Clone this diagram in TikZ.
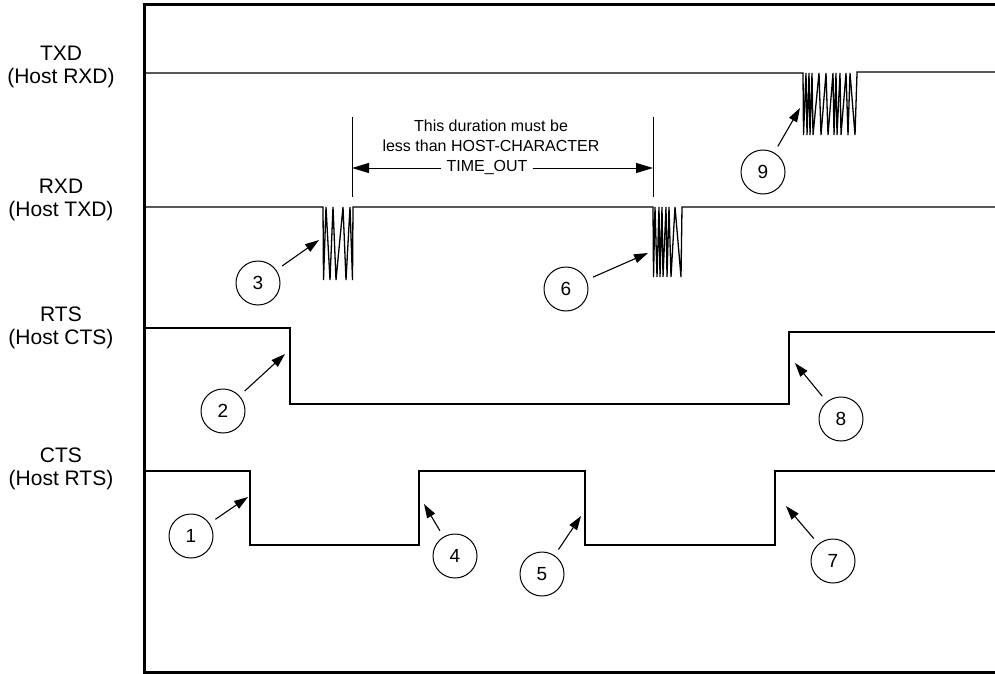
\documentclass[tikz,border=0pt]{standalone}
\usepackage{fontspec}
\setmainfont{Liberation Sans}
\usetikzlibrary{arrows.meta,positioning}
\tikzset{
  sig/.style={line width=1.3pt},
  pointer/.style={-{Triangle[length=14pt,width=9pt]},line width=1.1pt,shorten <=7pt},
  dur/.style={-{Triangle[length=17pt,width=10pt]},line width=1pt},
  num/.style={draw,circle,line width=1pt,minimum size=44pt,inner sep=0pt,font=\fontsize{19}{19}\selectfont},
  siglabel/.style={align=center,font=\fontsize{21}{23}\selectfont},
  note/.style={align=center,font=\fontsize{16}{20.5}\selectfont},
}

\begin{document}
\begin{tikzpicture}[x=1pt,y=-1pt]
\useasboundingbox (0,0) rectangle (995,674);

% frame
\draw[line width=3pt] (995,4.5) -- (144.5,4.5) -- (144.5,672) -- (995,672);

% signal names
\node[siglabel] (ltxd) at (61,67) {TXD\\(Host RXD)};
\node[siglabel] (lrxd) at (61,200) {RXD\\(Host TXD)};
\node[siglabel] (lrts) at (61,328) {RTS\\(Host CTS)};
\node[siglabel] (lcts) at (61,469) {CTS\\(Host RTS)};

% ===== waveforms =====
% TXD with burst
\draw[sig] (146,73) -- (803,73)
  \foreach \a/\b in {803.5/806,807/809,810/812,813/819,821/826,828/833,834/836,837/840,841/846,848/850,855/857} { -- (\a,135) -- (\b,73)}
  -- (857,72) -- (995,72);
% RXD with two bursts
\draw[sig] (146,207) -- (323,207)
  \foreach \a/\b in {323.5/326,330/333,336/343,346/350,352.5/353} { -- (\a,280) -- (\b,207)}
  -- (653,207)
  \foreach \a/\b in {653.5/655,657/659,660/662,663/666,667/669,671/675,681/682} { -- (\a,277) -- (\b,207)}
  -- (995,207);
% RTS
\draw[sig] (146,328) -- (290,328) -- (290,404) -- (789,404) -- (789,332) -- (995,332);
% CTS
\draw[sig] (146,471) -- (250,471) -- (250,545) -- (419,545) -- (419,471)
  -- (585,471) -- (585,545) -- (775,545) -- (775,471) -- (995,471);

% ===== duration note =====
\coordinate (vltop) at (352,117);
\coordinate (vlbot) at (352,197);
\coordinate (vrtop) at (653,117);
\coordinate (vrbot) at (653,197);
\draw[line width=1pt] (vltop) -- (vlbot);
\draw[line width=1pt] (vrtop) -- (vrbot);
\node[note] (dnote) at (491,136) {This duration must be\\less than HOST-CHARACTER};
\node[note,inner xsep=5pt] (tmo) at (487,168) {TIME\_OUT};
\coordinate (vl) at (352,168);
\coordinate (vr) at (653,168);
\draw[dur] (tmo.west) -- (vl);
\draw[dur] (tmo.east) -- (vr);

% ===== numbered events =====
\node[num] (c1) at (191,536) {1};
\node[num] (c2) at (223,411) {2};
\node[num] (c3) at (258,283) {3};
\node[num] (c4) at (455,556) {4};
\node[num] (c5) at (542,574) {5};
\node[num] (c6) at (566,289) {6};
\node[num] (c7) at (833,561) {7};
\node[num] (c8) at (841,419) {8};
\node[num] (c9) at (763,172) {9};

\coordinate (p1) at (248,497);
\coordinate (p2) at (285,354);
\coordinate (p3) at (319,240);
\coordinate (p4) at (424,504);
\coordinate (p5) at (581,516);
\coordinate (p6) at (648,253);
\coordinate (p7) at (786,506);
\coordinate (p8) at (795,363);
\coordinate (p9) at (800,108);

\foreach \i in {1,...,9} \draw[pointer] (c\i) -- (p\i);

\end{tikzpicture}
\end{document}
